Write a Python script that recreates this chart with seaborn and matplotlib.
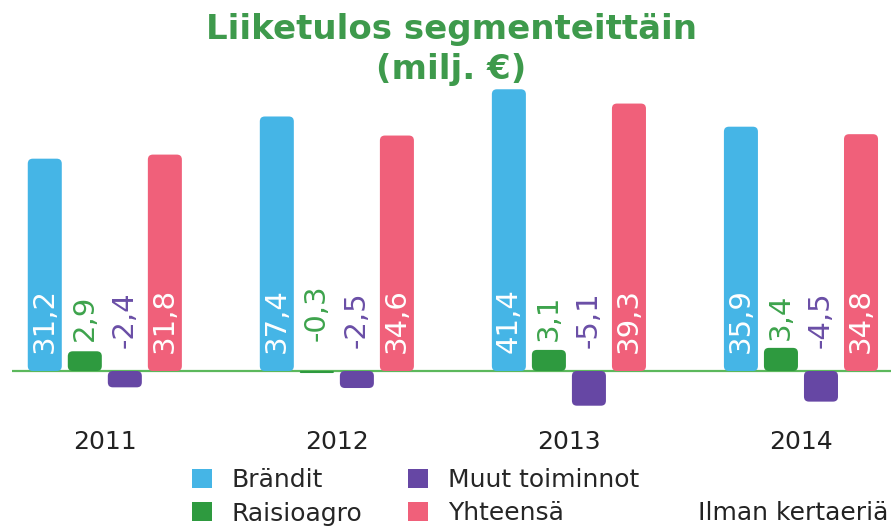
import pandas as pd
import numpy as np
import seaborn as sns
import matplotlib.pyplot as plt
from matplotlib.patches import FancyBboxPatch, Patch

years = ["2011", "2012", "2013", "2014"]
segments = ["Brändit", "Raisioagro", "Muut toiminnot", "Yhteensä"]
brandit = [31.2, 37.4, 41.4, 35.9]
raisioagro = [2.9, -0.3, 3.1, 3.4]
muut = [-2.4, -2.5, -5.1, -4.5]
yhteensa = [31.8, 34.6, 39.3, 34.8]

colors = {"Brändit": "#45b5e6", "Raisioagro": "#2e9a3f",
          "Muut toiminnot": "#6647a4", "Yhteensä": "#f0607a"}
label_colors = {"Brändit": "white", "Raisioagro": "#3da34c",
                "Muut toiminnot": "#6a4ea6", "Yhteensä": "white"}

df = pd.DataFrame({
    "year": years * 4,
    "segment": np.repeat(segments, 4),
    "value": brandit + raisioagro + muut + yhteensa,
})

sns.set_style("white")
plt.rcParams["font.family"] = ["DejaVu Sans"]

fig = plt.figure(figsize=(8.91, 5.30), dpi=100)
ax = fig.add_axes([12 / 891, 1 - 420 / 530, 1 - 12 / 891, (420 - 60) / 530])

sns.barplot(data=df, x="year", y="value", hue="segment", hue_order=segments,
            palette=colors, saturation=1, width=0.69, gap=0.15, legend=False, ax=ax)

ax.set_xlim(-0.4, 3.388)
ax.set_ylim(-7.2, 45.7)

# swap plain bars for rounded ones
px_x = 879 / 3.788
px_y = 360 / 52.9
asp = px_x / px_y
r = 5 / px_x
bars = list(ax.patches)
for p in bars:
    x, y = p.get_x(), p.get_y()
    w, h = p.get_width(), p.get_height()
    y0, hh = min(y, y + h), abs(h)
    rr = min(r, w / 2, hh / asp / 2)
    fb = FancyBboxPatch((x, y0), w, hh, boxstyle=f"round,pad=0,rounding_size={rr}",
                        mutation_aspect=asp, fc=p.get_facecolor(), ec="none", zorder=2)
    p.remove()
    ax.add_patch(fb)

# value labels
slot = 0.69 / 4
for i, seg in enumerate(segments):
    vals = df[df.segment == seg]["value"].tolist()
    for j, v in enumerate(vals):
        xc = j - 0.345 + slot / 2 + i * slot
        if seg in ("Brändit", "Yhteensä"):
            yt = 2.7
        elif seg == "Raisioagro":
            yt = max(v, 3.2) + 1.2
        else:
            yt = 3.4
        txt = f"{v:.1f}".replace(".", ",")
        ax.text(xc, yt, txt, rotation=90, ha="center", va="bottom",
                fontsize=21, color=label_colors[seg], zorder=3)

ax.axhline(0, color="#5cb85c", lw=1.6, zorder=1)
sns.despine(ax=ax, left=True, bottom=True, top=True, right=True)
ax.set_yticks([])
ax.set_xlabel("")
ax.set_ylabel("")
ax.tick_params(axis="x", length=0, pad=7, labelsize=18, labelcolor="#222222")

fig.text(451 / 891, 1 - 30 / 530, "Liiketulos segmenteittäin", ha="center", va="center",
         fontsize=24.5, fontweight="bold", color="#3e9a4c")
fig.text(451 / 891, 1 - 70 / 530, "(milj. €)", ha="center", va="center",
         fontsize=24.5, fontweight="bold", color="#3e9a4c")

handles = [Patch(facecolor=colors[s], edgecolor="none", label=s) for s in segments]
fig.legend(handles=handles, ncol=2, loc="upper left", bbox_to_anchor=(192 / 891, 1 - 468 / 530),
           frameon=False, fontsize=18, handlelength=0.8, handleheight=0.8,
           handletextpad=0.8, columnspacing=1.8, labelspacing=0.38,
           borderpad=0, borderaxespad=0)
fig.text(888 / 891, 1 - 513 / 530, "Ilman kertaeriä", ha="right", va="center",
         fontsize=18, color="#222222")

fig.savefig("out.png", dpi=100)
